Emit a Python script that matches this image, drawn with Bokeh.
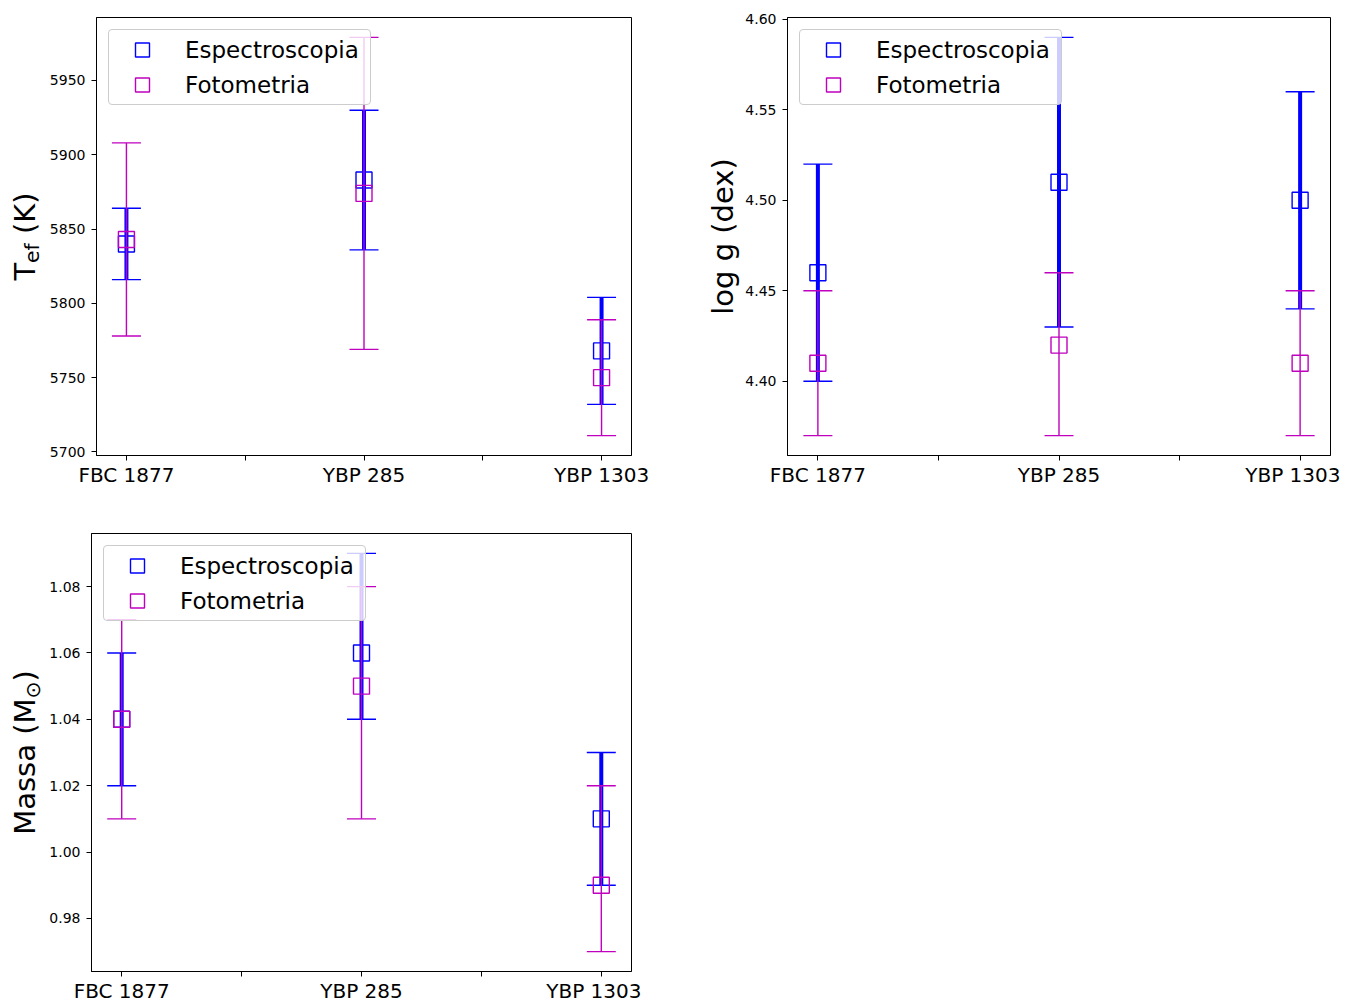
import math
from bokeh.plotting import figure
from bokeh.models import (ColumnDataSource, FixedTicker, PrintfTickFormatter, Range1d,
                          Legend, LegendItem)
from bokeh.layouts import column, row
from bokeh.embed import file_html
from bokeh.resources import INLINE
from bokeh.core.properties import value

# ---------------- data ----------------
stars = ["FBC 1877", "YBP 285", "YBP 1303"]
series_names = ["Espectroscopia", "Fotometria"]

# Effective temperature (K)
tef_spec = [5840, 5883, 5768]
tef_spec_err_lo = [24, 47, 36]
tef_spec_err_hi = [24, 47, 36]
tef_phot = [5843, 5874, 5750]
tef_phot_err_lo = [65, 105, 39]
tef_phot_err_hi = [65, 105, 39]
tef_ticks = [5700, 5750, 5800, 5850, 5900, 5950]

# log g (dex)
logg_spec = [4.46, 4.51, 4.50]
logg_spec_err_lo = [0.06, 0.08, 0.06]
logg_spec_err_hi = [0.06, 0.08, 0.06]
logg_phot = [4.41, 4.42, 4.41]
logg_phot_err_lo = [0.04, 0.05, 0.04]
logg_phot_err_hi = [0.04, 0.04, 0.04]
logg_ticks = [4.40, 4.45, 4.50, 4.55, 4.60]

# Mass (Msun)
mass_spec = [1.04, 1.06, 1.01]
mass_spec_err_lo = [0.02, 0.02, 0.02]
mass_spec_err_hi = [0.02, 0.03, 0.02]
mass_phot = [1.04, 1.05, 0.99]
mass_phot_err_lo = [0.03, 0.04, 0.02]
mass_phot_err_hi = [0.03, 0.03, 0.03]
mass_ticks = [0.98, 1.00, 1.02, 1.04, 1.06, 1.08]

BLUE = "#0000ff"
MAGENTA = "#bf00bf"
FONT = "DejaVu Sans"
LABEL_SIZE = 29

# DejaVu Sans advance widths (em) for label layout
EM = {"T": 0.611, "e": 0.615, "f": 0.352, " ": 0.318, "(": 0.390, "K": 0.656, ")": 0.390,
      "M": 0.863, "a": 0.613, "s": 0.521, "\u2299": 0.838, "l": 0.278, "o": 0.612,
      "g": 0.635, "d": 0.635, "x": 0.592}


def text_em(t):
    return sum(EM.get(c, 0.6) for c in t)


def y_limits(groups):
    lo = min(v - e for vals, elo, _ in groups for v, e in zip(vals, elo))
    hi = max(v + e for vals, _, ehi in groups for v, e in zip(vals, ehi))
    pad = 0.05 * (hi - lo)
    return lo - pad, hi + pad


def make_panel(fw, fh, bl, br, bt, bb, spec, phot, ticks, fmt):
    y0, y1 = y_limits([spec, phot])
    p = figure(frame_width=fw, frame_height=fh,
               min_border_left=bl, min_border_right=br, min_border_top=bt, min_border_bottom=bb,
               x_range=Range1d(-0.126, len(stars) - 1 + 0.126), y_range=Range1d(y0, y1),
               output_backend="svg", toolbar_location=None, tools="")
    p.grid.visible = False
    p.background_fill_color = "white"
    p.border_fill_color = "white"
    p.outline_line_color = "black"
    p.outline_line_width = 1
    p.outline_line_alpha = 1

    xs = list(range(len(stars)))
    renderers = []
    for (vals, elo, ehi), color, stem_w in ((spec, BLUE, 4), (phot, MAGENTA, 1.4)):
        src = ColumnDataSource(dict(
            x=xs, v=vals,
            lo=[v - e for v, e in zip(vals, elo)],
            hi=[v + e for v, e in zip(vals, ehi)]))
        p.segment(x0="x", y0="lo", x1="x", y1="hi", source=src,
                  line_color=color, line_width=stem_w)
        p.scatter(x="x", y="lo", marker="dash", size=29, line_color=color,
                  line_width=1.4, source=src)
        p.scatter(x="x", y="hi", marker="dash", size=29, line_color=color,
                  line_width=1.4, source=src)
        r = p.scatter(x="x", y="v", marker="square", size=16, fill_color=None,
                      line_color=color, line_width=1.4, source=src)
        renderers.append(r)

    # x axis
    xa = p.xaxis[0]
    xa.ticker = FixedTicker(ticks=xs, minor_ticks=[i + 0.5 for i in xs[:-1]])
    xa.major_label_overrides = {i: s for i, s in enumerate(stars)}
    xa.major_label_text_font = FONT
    xa.major_label_text_font_size = "20px"
    xa.major_label_text_color = "black"
    xa.major_label_standoff = 2
    xa.major_tick_out = 5
    xa.major_tick_in = 0
    xa.minor_tick_out = 5
    xa.minor_tick_in = 0
    xa.major_tick_line_color = "black"
    xa.minor_tick_line_color = "black"
    xa.axis_line_color = "black"

    # y axis
    ya = p.yaxis[0]
    ya.ticker = FixedTicker(ticks=ticks)
    ya.formatter = PrintfTickFormatter(format=fmt)
    ya.major_label_text_font = FONT
    ya.major_label_text_font_size = "14px"
    ya.major_label_text_color = "black"
    ya.major_label_standoff = 6
    ya.major_tick_out = 5
    ya.major_tick_in = 0
    ya.minor_tick_line_color = None
    ya.major_tick_line_color = "black"
    ya.axis_line_color = "black"

    # legend
    leg = Legend(items=[LegendItem(label=series_names[0], renderers=[renderers[0]]),
                        LegendItem(label=series_names[1], renderers=[renderers[1]])],
                 location="top_left", margin=12, padding=2, spacing=0,
                 glyph_width=62, glyph_height=35, label_standoff=12, label_width=183,
                 label_height=30,
                 label_text_font=FONT, label_text_font_size="23px",
                 label_text_color="black",
                 border_line_color="#cccccc", border_line_width=1, border_line_alpha=1,
                 background_fill_color="white", background_fill_alpha=0.8)
    if "border_radius" in Legend.properties():
        try:
            leg.border_radius = 4
        except Exception:
            pass
    p.add_layout(leg)
    return p


def make_label(width, fh, bt, bb, baseline_x, pieces):
    """Narrow figure (frame aligned with the panel frame) holding a rotated
    axis title built from text pieces: (text, scale, baseline shift px, leading gap em)."""
    lp = figure(frame_width=width, frame_height=fh, min_border=0,
                min_border_top=bt, min_border_bottom=bb,
                x_range=Range1d(0, width), y_range=Range1d(0, fh),
                x_axis_location=None, y_axis_location=None,
                output_backend="svg", toolbar_location=None, tools="")
    lp.title.visible = False
    lp.grid.visible = False
    lp.outline_line_color = None
    lp.background_fill_color = "white"
    lp.border_fill_color = "white"
    total = sum(LABEL_SIZE * sc * (text_em(t) + pre) for t, sc, _, pre in pieces)
    y = fh / 2 - total / 2
    for t, sc, shift, pre in pieces:
        fs = LABEL_SIZE * sc
        y += fs * pre
        length = fs * text_em(t)
        cx = baseline_x + shift - 0.346 * fs
        cy = y + length / 2
        lp.text(x=[cx], y=[cy], text=[t], angle=math.pi / 2,
                text_font=value(FONT), text_font_size=value(f"{fs:.1f}px"),
                text_align="center", text_baseline="middle", text_color="black")
        y += length
    return lp


# ---- layout geometry (page pixels) ----
FH = 438
R1_TOP, R1_BOT = 17, 38          # row 1 borders
R2_TOP, R2_BOT = 40, 29          # row 2 borders

p1 = make_panel(535, FH, 51, 76, R1_TOP, R1_BOT,
                (tef_spec, tef_spec_err_lo, tef_spec_err_hi),
                (tef_phot, tef_phot_err_lo, tef_phot_err_hi),
                tef_ticks, "%d")
p2 = make_panel(543, FH, 45, 10, R1_TOP, R1_BOT,
                (logg_spec, logg_spec_err_lo, logg_spec_err_hi),
                (logg_phot, logg_phot_err_lo, logg_phot_err_hi),
                logg_ticks, "%.2f")
p3 = make_panel(540, FH, 46, 10, R2_TOP, R2_BOT,
                (mass_spec, mass_spec_err_lo, mass_spec_err_hi),
                (mass_phot, mass_phot_err_lo, mass_phot_err_hi),
                mass_ticks, "%.2f")

l1 = make_label(45, FH, R1_TOP, R1_BOT, 35,
                [("T", 1, 0, 0), ("ef", 0.7, 4, 0), ("(K)", 1, 0, EM[" "])])
l2 = make_label(35, FH, R1_TOP, R1_BOT, 26,
                [("log g (dex)", 1, 0, 0)])
l3 = make_label(45, FH, R2_TOP, R2_BOT, 35,
                [("Massa (M", 1, 0, 0), ("\u2299", 0.7, 5, 0), (")", 1, 0, 0)])

layout = column(row(l1, p1, l2, p2), row(l3, p3))
open("out.html", "w").write(file_html(layout, INLINE))
